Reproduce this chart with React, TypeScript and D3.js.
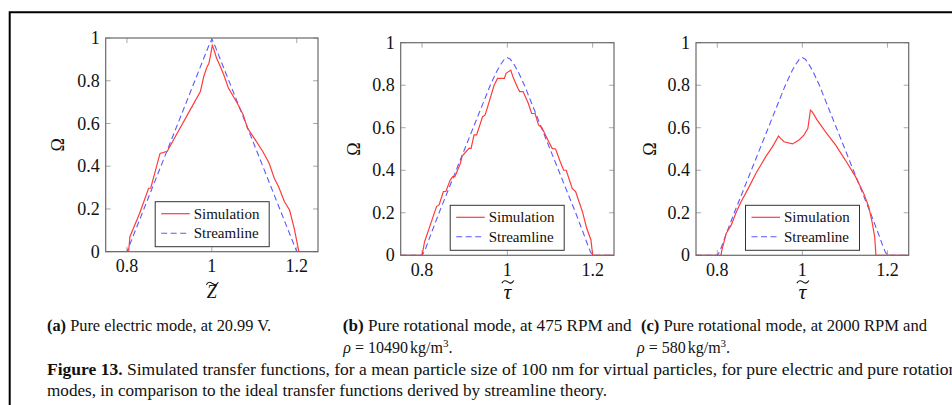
import React from "react";
import * as d3 from "d3";

// ---------- data ----------
const xTicks = [0.8, 1, 1.2];
const yTicks = [0, 0.2, 0.4, 0.6, 0.8, 1];
const xTickLabels = ["0.8", "1", "1.2"];
const yTickLabels = ["0", "0.2", "0.4", "0.6", "0.8", "1"];
const seriesNames = ["Simulation", "Streamline"];

// (a) pure electric mode
const aSimX = [0.75, 0.804, 0.807, 0.83, 0.851, 0.856, 0.878, 0.895, 0.92, 0.95, 0.973, 0.981, 0.989, 0.993, 0.997, 1.001, 1.005, 1.011, 1.02, 1.028, 1.039, 1.06, 1.074, 1.084, 1.1, 1.12, 1.135, 1.147, 1.157, 1.171, 1.183, 1.194, 1.205, 1.25];
const aSimY = [0, 0, 0.07, 0.18, 0.297, 0.297, 0.46, 0.47, 0.56, 0.667, 0.75, 0.82, 0.867, 0.88, 0.92, 0.965, 0.945, 0.906, 0.867, 0.828, 0.766, 0.695, 0.64, 0.578, 0.53, 0.469, 0.414, 0.344, 0.305, 0.234, 0.195, 0.109, 0, 0];
const aStrX = [0.75, 0.8, 0.992, 1.0, 1.008, 1.2, 1.25];
const aStrY = [0, 0, 0.96, 0.995, 0.96, 0, 0];

// (b) pure rotational mode, 475 RPM
const bSimX = [0.75, 0.8, 0.806, 0.818, 0.834, 0.84, 0.85, 0.856, 0.866, 0.872, 0.877, 0.89, 0.894, 0.91, 0.915, 0.922, 0.928, 0.942, 0.948, 0.961, 0.969, 0.977, 0.993, 0.997, 1.008, 1.013, 1.025, 1.029, 1.037, 1.049, 1.057, 1.065, 1.073, 1.081, 1.097, 1.105, 1.113, 1.124, 1.132, 1.138, 1.152, 1.16, 1.176, 1.186, 1.196, 1.2, 1.25];
const bSimY = [0, 0, 0.064, 0.135, 0.229, 0.237, 0.3, 0.3, 0.354, 0.37, 0.37, 0.433, 0.467, 0.503, 0.503, 0.566, 0.566, 0.652, 0.66, 0.746, 0.8, 0.832, 0.832, 0.856, 0.871, 0.84, 0.785, 0.77, 0.77, 0.715, 0.667, 0.667, 0.613, 0.6, 0.534, 0.503, 0.5, 0.44, 0.4, 0.4, 0.315, 0.3, 0.205, 0.127, 0.072, 0, 0];

// streamline for rotational modes (b) and (c)
const rStrX = [0.75, 0.8, 0.805, 0.81, 0.82, 0.84, 0.88, 0.92, 0.96, 0.975, 0.985, 0.993, 1.0, 1.007, 1.015, 1.025, 1.04, 1.08, 1.12, 1.16, 1.18, 1.19, 1.195, 1.2, 1.25];
const rStrY = [0, 0, 0.015, 0.04, 0.095, 0.2, 0.4, 0.6, 0.8, 0.865, 0.9, 0.922, 0.93, 0.922, 0.9, 0.865, 0.8, 0.6, 0.4, 0.2, 0.095, 0.04, 0.015, 0, 0];

// (c) pure rotational mode, 2000 RPM
const cSimX = [0.75, 0.809, 0.81, 0.821, 0.833, 0.844, 0.856, 0.875, 0.891, 0.914, 0.93, 0.944, 0.949, 0.957, 0.977, 0.992, 1.004, 1.013, 1.019, 1.023, 1.035, 1.054, 1.078, 1.101, 1.125, 1.144, 1.156, 1.163, 1.17, 1.173, 1.25];
const cSimY = [0, 0, 0.017, 0.103, 0.143, 0.2, 0.252, 0.323, 0.386, 0.464, 0.511, 0.561, 0.55, 0.534, 0.524, 0.542, 0.566, 0.597, 0.683, 0.676, 0.636, 0.582, 0.519, 0.448, 0.37, 0.292, 0.229, 0.166, 0.088, 0, 0];

const FONT = "'Liberation Serif', 'Times New Roman', serif";
const RED = "#ff3b3b";
const BLUE = "#5a5aff";
const FRAME = "#6a6a6a";
const TICK = "#a8a8a8";

type PanelProps = {
  id: string;
  x0: number; x1: number; y0: number; y1: number;
  simX: number[]; simY: number[];
  strX: number[]; strY: number[];
  xlab: string;
  ylabX: number;
};

function Panel(p: PanelProps) {
  const xs = d3.scaleLinear().domain([0.75, 1.25]).range([p.x0, p.x1]);
  const ys = d3.scaleLinear().domain([0, 1]).range([p.y1, p.y0]);
  const line = d3.line<[number, number]>().x((d) => xs(d[0])).y((d) => ys(d[1]));
  const sim = p.simX.map((x, i) => [x, p.simY[i]] as [number, number]);
  const str = p.strX.map((x, i) => [x, p.strY[i]] as [number, number]);
  const tl = 5;
  const lx = p.x0 + 49.5;
  const ly = p.y1 - 50;
  const labCx = (p.x0 + p.x1) / 2;
  const midY = (p.y0 + p.y1) / 2;
  const isZ = p.xlab === "Z";
  const ty = p.y1 + (isZ ? 31.8 : 26.6);
  const tcx = labCx + (isZ ? 0.5 : 0.5);
  const tilde = `M ${tcx - 6} ${ty + 1.3} C ${tcx - 4} ${ty - 2.2}, ${tcx - 2} ${ty - 1.4}, ${tcx} ${ty} S ${tcx + 4} ${ty + 2.2}, ${tcx + 6} ${ty - 1.3}`;
  return (
    <g>
      <defs>
        <clipPath id={"clip-" + p.id}>
          <rect x={p.x0} y={p.y0 - 1} width={p.x1 - p.x0} height={p.y1 - p.y0 + 1} />
        </clipPath>
      </defs>
      {/* ticks */}
      {xTicks.map((t) => (
        <g key={"xt" + t}>
          <line x1={xs(t)} x2={xs(t)} y1={p.y1} y2={p.y1 - tl} stroke={TICK} strokeWidth={1} />
          <line x1={xs(t)} x2={xs(t)} y1={p.y0} y2={p.y0 + tl} stroke={TICK} strokeWidth={1} />
        </g>
      ))}
      {yTicks.map((t) => (
        <g key={"yt" + t}>
          <line x1={p.x0} x2={p.x0 + tl} y1={ys(t)} y2={ys(t)} stroke={TICK} strokeWidth={1} />
          <line x1={p.x1} x2={p.x1 - tl} y1={ys(t)} y2={ys(t)} stroke={TICK} strokeWidth={1} />
        </g>
      ))}
      {/* curves */}
      <g clipPath={`url(#clip-${p.id})`}>
        <path d={line(str) || ""} fill="none" stroke={BLUE} strokeWidth={1.1} strokeDasharray="6,3.5" />
        <path d={line(sim) || ""} fill="none" stroke={RED} strokeWidth={1.2} />
      </g>
      <rect x={p.x0} y={p.y0} width={p.x1 - p.x0} height={p.y1 - p.y0} fill="none" stroke={FRAME} strokeWidth={1.2} />
      {/* tick labels */}
      {xTicks.map((t, i) => (
        <text key={"xl" + t} x={xs(t)} y={p.y1 + 20.5} textAnchor="middle" fontFamily={FONT} fontSize={18} fill="#111">
          {xTickLabels[i]}
        </text>
      ))}
      {yTicks.map((t, i) => (
        <text key={"yl" + t} x={p.x0 - 6} y={ys(t)} dy="0.34em" textAnchor="end" fontFamily={FONT} fontSize={18} fill="#111">
          {yTickLabels[i]}
        </text>
      ))}
      {/* axis labels */}
      <text x={p.ylabX} y={midY} transform={`rotate(-90 ${p.ylabX} ${midY})`} textAnchor="middle" dominantBaseline="central" fontFamily={FONT} fontSize={18} fill="#111">
        Ω
      </text>
      <text x={labCx} y={p.y1 + (isZ ? 46.6 : 44)} textAnchor="middle" fontFamily={FONT} fontStyle="italic" fontSize={isZ ? 18 : 22} fill="#111">
        {p.xlab}
      </text>
      <path d={tilde} fill="none" stroke="#111" strokeWidth={1.1} />
      {/* legend */}
      <rect x={lx} y={ly} width={114} height={45} fill="white" stroke="#333" strokeWidth={1} />
      <line x1={lx + 6} x2={lx + 34.5} y1={ly + 12} y2={ly + 12} stroke={RED} strokeWidth={1.2} />
      <line x1={lx + 6} x2={lx + 34.5} y1={ly + 31.5} y2={ly + 31.5} stroke={BLUE} strokeWidth={1.1} strokeDasharray="6,3.5" />
      <text x={lx + 38.5} y={ly + 12} dy="0.33em" fontFamily={FONT} fontSize={15} fill="#111">
        {seriesNames[0]}
      </text>
      <text x={lx + 38.5} y={ly + 31.5} dy="0.33em" fontFamily={FONT} fontSize={15} fill="#111">
        {seriesNames[1]}
      </text>
    </g>
  );
}

export default function App() {
  const cap = { fontFamily: FONT, fontSize: 16, fill: "#111" } as const;
  return (
    <div style={{ position: "absolute", left: 0, top: 0, width: 952, height: 405, background: "white", overflow: "hidden" }}>
      <svg width={952} height={405} viewBox="0 0 952 405" style={{ display: "block" }}>
        <rect x={0} y={0} width={952} height={405} fill="white" />
        <path d="M 9.7 405 V 12.3 H 952" fill="none" stroke="#000" strokeWidth={2} />
        <Panel id="a" x0={105.7} x1={318} y0={38} y1={251.7} simX={aSimX} simY={aSimY} strX={aStrX} strY={aStrY} xlab="Z" ylabX={58} />
        <Panel id="b" x0={400.7} x1={614} y0={42.7} y1={255.3} simX={bSimX} simY={bSimY} strX={rStrX} strY={rStrY} xlab="τ" ylabX={353.5} />
        <Panel id="c" x0={696} x1={908.7} y0={42.7} y1={255.3} simX={cSimX} simY={cSimY} strX={rStrX} strY={rStrY} xlab="τ" ylabX={650} />

        <text x={47} y={330.5} {...cap} textLength={224} lengthAdjust="spacingAndGlyphs">
          <tspan fontWeight="bold">(a)</tspan> Pure electric mode, at 20.99 V.
        </text>
        <text x={342.7} y={330.5} {...cap} textLength={289} lengthAdjust="spacingAndGlyphs">
          <tspan fontWeight="bold">(b)</tspan> Pure rotational mode, at 475 RPM and
        </text>
        <text x={641} y={330.5} {...cap} textLength={286} lengthAdjust="spacingAndGlyphs">
          <tspan fontWeight="bold">(c)</tspan> Pure rotational mode, at 2000 RPM and
        </text>
        <text x={343.3} y={352.5} {...cap}>
          <tspan fontStyle="italic">ρ</tspan><tspan dx={4}>=</tspan><tspan dx={4}>10490</tspan><tspan dx={2}>kg/m</tspan><tspan dy={-6} fontSize={11}>3</tspan><tspan dy={6}>.</tspan>
        </text>
        <text x={637} y={352.5} {...cap}>
          <tspan fontStyle="italic">ρ</tspan><tspan dx={4}>=</tspan><tspan dx={4}>580</tspan><tspan dx={2}>kg/m</tspan><tspan dy={-6} fontSize={11}>3</tspan><tspan dy={6}>.</tspan>
        </text>
        <text x={47} y={374.5} {...cap} textLength={923} lengthAdjust="spacingAndGlyphs">
          <tspan fontWeight="bold">Figure 13.</tspan> Simulated transfer functions, for a mean particle size of 100 nm for virtual particles, for pure electric and pure rotational
        </text>
        <text x={47} y={396} {...cap} textLength={560} lengthAdjust="spacingAndGlyphs">
          modes, in comparison to the ideal transfer functions derived by streamline theory.
        </text>
      </svg>
    </div>
  );
}
